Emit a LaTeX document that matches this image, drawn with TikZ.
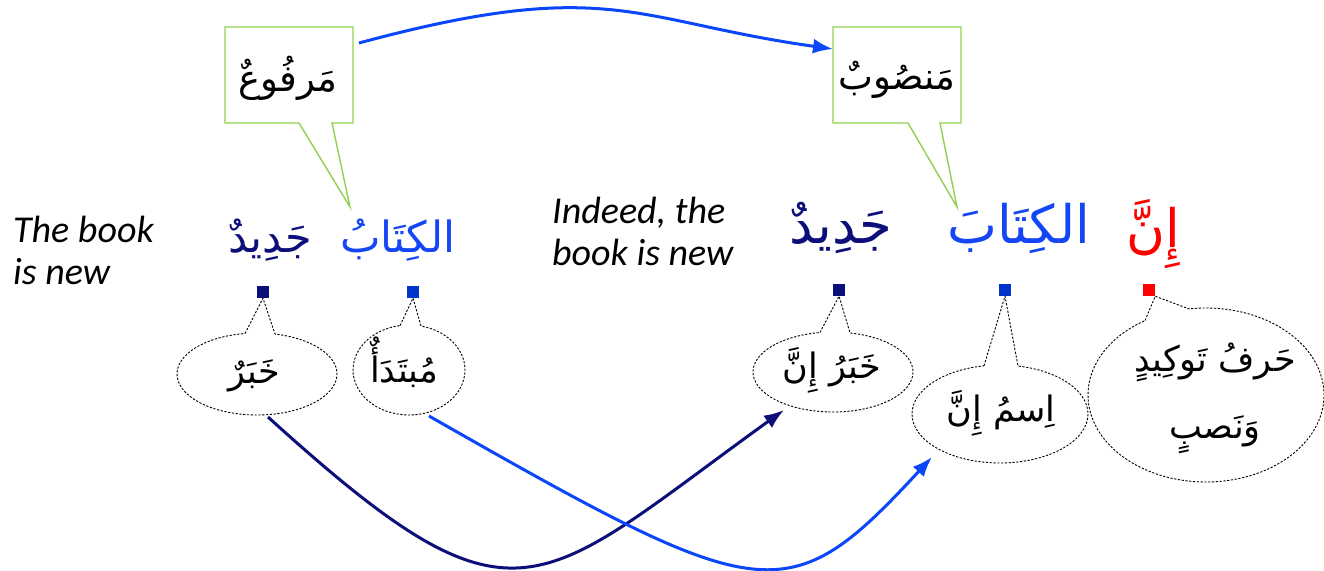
\documentclass[tikz,border=0pt]{standalone}
\usepackage{fontspec}
\setmainfont{Carlito}
\newfontfamily\arfont[Script=Arabic]{DejaVu Sans}
\TeXXeTstate=1
\usetikzlibrary{arrows.meta,calc}
\definecolor{navy}{RGB}{12,14,122}
\definecolor{bluetxt}{RGB}{20,70,245}
\definecolor{bluesq}{RGB}{0,53,204}
\definecolor{bluearr}{RGB}{10,70,250}
\definecolor{redtxt}{RGB}{255,0,0}
\definecolor{grn}{RGB}{146,208,80}
\newcommand\ecall[7]{% center, rx, ry, t1, t2, endangle, tip
  \draw[dotline] ($(#1)+(#4:#2 and #3)$) -- (#7) -- ($(#1)+(#5:#2 and #3)$)
    arc[start angle=#5, end angle=#6, x radius=#2, y radius=#3] -- cycle;}
\begin{document}
\begin{tikzpicture}[x=1pt,y=1pt,
  entxt/.style={font=\itshape\fontsize{38}{42}\selectfont, inner sep=0pt, anchor=base west},
  wordA/.style={font=\arfont\fontsize{43}{50}\selectfont, inner sep=0pt, anchor=base},
  wordB/.style={font=\arfont\fontsize{53}{60}\selectfont, inner sep=0pt, anchor=base},
  boxtxt/.style={font=\arfont\fontsize{37}{44}\selectfont, inner sep=0pt},
  elltxt/.style={font=\arfont\fontsize{35}{67}\selectfont, inner sep=0pt, align=center},
  sq/.style={minimum size=12pt, inner sep=0pt, draw=none},
  dotline/.style={black, line width=0.9pt, dash pattern=on 2.2pt off 1.6pt},
  greenbox/.style={draw=grn, line width=1.4pt, fill=white, line join=miter},
  arr/.style={line width=3pt, -{Latex[length=20pt,width=15pt]}}]
\useasboundingbox (0,0) rectangle (1324,-570);
\fill[white] (0,0) rectangle (1324,-570);

% English texts
\node[entxt] (en1) at (13,-242) {\begin{tabular}[t]{@{}l@{}}The book\\is new\end{tabular}};
\node[entxt] (en2) at (552,-223) {\begin{tabular}[t]{@{}l@{}}Indeed, the\\book is new\end{tabular}};

% Arabic words
\node[wordA, text=navy] (jadid1) at (270,-252) {\beginR جَدِيدٌ\endR};
\node[wordA, text=bluetxt] (kitab1) at (398,-252) {\beginR الكِتَابُ\endR};
\node[wordB, text=navy] (jadid2) at (841,-243) {\beginR جَدِيدٌ\endR};
\node[wordB, text=bluetxt] (kitab2) at (1019,-243) {\beginR الكِتَابَ\endR};
\node[wordB, text=redtxt] (inna) at (1153,-247) {\beginR إِنَّ\endR};

% squares
\node[sq, fill=navy] (sqA) at (263,-292) {};
\node[sq, fill=bluesq] (sqB) at (413,-292) {};
\node[sq, fill=navy] (sqC) at (839,-290) {};
\node[sq, fill=bluesq] (sqD) at (1005,-290) {};
\node[sq, fill=redtxt] (sqE) at (1149,-290) {};

% green callouts
\draw[greenbox] (225,-27) -- (353,-27) -- (353,-123) -- (332,-123) -- (350,-207)
  -- (299,-123) -- (225,-123) -- cycle;
\draw[greenbox] (833,-27) -- (961,-27) -- (961,-123) -- (940,-123) -- (957,-207)
  -- (908,-123) -- (833,-123) -- cycle;
\node[boxtxt] (marfu) at (288,-78) {\beginR مَرفُوعٌ\endR};
\node[boxtxt] (mansub) at (897,-80) {\beginR مَنصُوبٌ\endR};

% ellipse callouts
\coordinate (eA) at (257,-374);
\coordinate (eB) at (409,-370);
\coordinate (eC) at (833,-372);
\coordinate (eD) at (1000,-414);
\coordinate (eE) at (1206,-395);
\ecall{eA}{80}{41}{98.6}{77.0}{-261.4}{sqA.south}
\ecall{eB}{56}{45}{99.2}{77.6}{-260.8}{sqB.south}
\ecall{eC}{80}{40}{99.4}{77.7}{-260.6}{sqC.south}
\ecall{eD}{88}{49}{100.5}{78.2}{-259.5}{sqD.south}
\ecall{eE}{118}{87}{121.1}{98.3}{-238.9}{sqE.south east}

\node[elltxt] (khabar) at (254,-376) {\beginR خَبَرٌ\endR};
\node[elltxt] (mubtada) at (404,-362) {\beginR مُبتَدَأٌ\endR};
\node[elltxt] (khabarinna) at (832,-370) {\beginR خَبَرُ إِنَّ\endR};
\node[elltxt] (isminna) at (1001,-413) {\beginR اِسمُ إِنَّ\endR};
\node[elltxt] (harf) at (1215,-398) {\beginR حَرفُ تَوكِيدٍ\endR\\\beginR وَنَصبٍ\endR};

% connectors
\coordinate (b1e) at (359,-43);
\coordinate (b2w) at (833,-49);
\draw[arr, bluearr] (b1e) .. controls (609,24.5) and (633,-21) .. (b2w);
\coordinate (nS) at (268,-417);
\coordinate (nE) at (784,-410);
\draw[arr, navy] (nS) .. controls (518,-644) and (534,-590) .. (nE);
\coordinate (bS) at (429,-416);
\coordinate (bE) at (932,-457);
\draw[arr, bluearr] (bS) .. controls (764,-607) and (787,-614) .. (bE);
\end{tikzpicture}
\end{document}
